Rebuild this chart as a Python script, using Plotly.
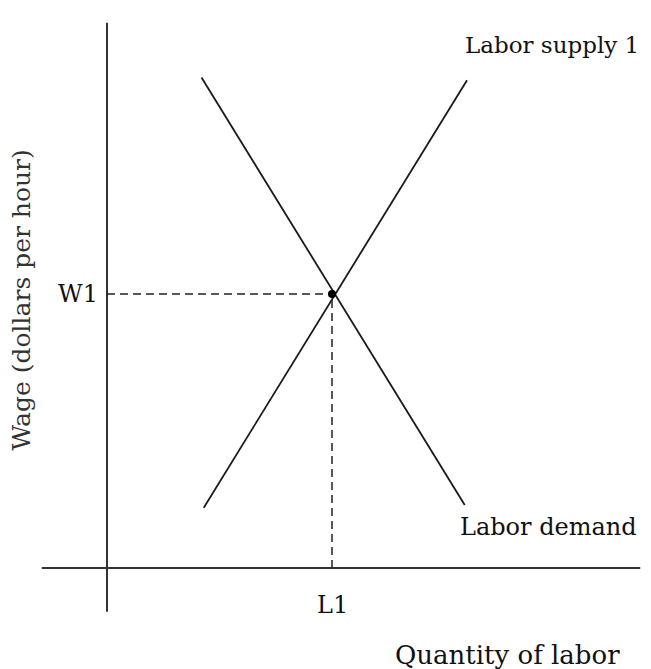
import plotly.graph_objects as go

# Data (arbitrary economic units)
supply_q = [4.3, 16.0]
supply_w = [2.2, 17.8]
demand_q = [4.2, 15.9]
demand_w = [17.9, 2.3]
eq_q = [10.0]
eq_w = [10.0]
x_axis_span = [-2.9, 23.7]
y_axis_span = [-1.6, 19.9]

FONT = "DejaVu Serif"
fig = go.Figure()

# axis lines
fig.add_trace(go.Scatter(x=x_axis_span, y=[0, 0], mode="lines",
                         line=dict(color="#333", width=2), hoverinfo="skip"))
fig.add_trace(go.Scatter(x=[0, 0], y=y_axis_span, mode="lines",
                         line=dict(color="#333", width=2), hoverinfo="skip"))
# curves
fig.add_trace(go.Scatter(x=supply_q, y=supply_w, mode="lines",
                         line=dict(color="#1a1a1a", width=1.8)))
fig.add_trace(go.Scatter(x=demand_q, y=demand_w, mode="lines",
                         line=dict(color="#1a1a1a", width=1.8)))
# dashed guides
fig.add_trace(go.Scatter(x=[0, eq_q[0]], y=[eq_w[0], eq_w[0]], mode="lines",
                         line=dict(color="#222", width=1.5, dash="8px,5px")))
fig.add_trace(go.Scatter(x=[eq_q[0], eq_q[0]], y=[0, eq_w[0]], mode="lines",
                         line=dict(color="#222", width=1.5, dash="8px,5px")))
fig.add_trace(go.Scatter(x=eq_q, y=eq_w, mode="markers",
                         marker=dict(color="black", size=8)))

def font(size, color="#111"):
    return dict(family=FONT, size=size, color=color)

fig.add_annotation(x=-0.3, y=eq_w[0], text="W1", xanchor="right", yanchor="middle",
                   showarrow=False, font=font(24))
fig.add_annotation(x=eq_q[0], y=-1.35, text="L1", xanchor="center", yanchor="middle",
                   showarrow=False, font=font(24))
fig.add_annotation(x=15.8, y=19.1, text="Labor supply 1", xanchor="left", yanchor="middle",
                   showarrow=False, font=font(23))
fig.add_annotation(x=15.6, y=1.5, text="Labor demand", xanchor="left", yanchor="middle",
                   showarrow=False, font=font(24))
fig.add_annotation(x=17.8, y=-3.18, text="Quantity of labor", xanchor="center", yanchor="middle",
                   showarrow=False, font=font(26))
fig.add_annotation(x=-3.78, y=9.8, text="Wage (dollars per hour)", textangle=-90,
                   xanchor="center", yanchor="middle",
                   showarrow=False, font=font(25, "#333"))

fig.update_layout(
    width=651, height=669, margin=dict(l=0, r=0, t=0, b=0),
    paper_bgcolor="white", plot_bgcolor="white", showlegend=False,
    xaxis=dict(range=[-4.756, 24.178], visible=False, fixedrange=True),
    yaxis=dict(range=[-3.686, 20.73], visible=False, fixedrange=True),
)
fig.write_html("out.html", config={"displayModeBar": False},
               post_script="document.body.style.margin='0';document.body.style.overflow='hidden';")
